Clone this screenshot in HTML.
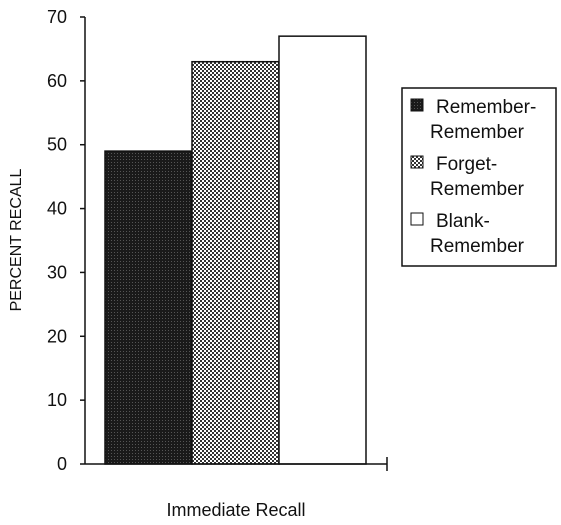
<!DOCTYPE html>
<html><head><meta charset="utf-8"><style>
body{margin:0;background:#fff;}
svg{display:block;font-family:"Liberation Sans",sans-serif;}
</style></head><body>
<svg width="561" height="525">
<defs>
<pattern id="dark" width="3" height="3" patternUnits="userSpaceOnUse"><rect width="3" height="3" fill="#1a1a1a"/><rect width="1" height="1" fill="#555"/></pattern>
<pattern id="check" width="4" height="4" patternUnits="userSpaceOnUse"><rect width="4" height="4" fill="#fff"/><rect width="2" height="2" fill="#333"/><rect x="2" y="2" width="2" height="2" fill="#333"/></pattern>
</defs>
<g id="g"></g>
</svg>
<script>
const categories = ["Remember-Remember","Forget-Remember","Blank-Remember"];
const values = [49, 63, 67];
const ticks = [0,10,20,30,40,50,60,70];
const fills = ["url(#dark)","url(#check)","#fff"];
const NS="http://www.w3.org/2000/svg";
const g=document.getElementById('g');
function y(v){return 464 - v*(464-17)/70;}
function x(i){return 105 + i*87;}
function mk(t,a,p){const e=document.createElementNS(NS,t);for(const k in a)e.setAttribute(k,a[k]);(p||g).appendChild(e);return e;}
values.forEach((v,i)=>{
 const r=mk('rect',{x:x(i),y:y(v),width:87,height:464-y(v),fill:fills[i],stroke:'#111','stroke-width':1.5});
 
 
});
const ax=mk('line',{x1:85,y1:y(70),x2:85,y2:464,stroke:'#111','stroke-width':1.5});


const xa=mk('line',{x1:85,y1:464,x2:387,y2:464,stroke:'#111','stroke-width':1.5});


mk('line',{x1:387,y1:457,x2:387,y2:471,stroke:'#111','stroke-width':1.5});
ticks.forEach(t=>{
 mk('line',{x1:80,y1:y(t),x2:85,y2:y(t),stroke:'#111','stroke-width':1.5});
 const tx=mk('text',{x:67,y:y(t)+6,'text-anchor':'end','font-size':18,fill:'#111'});
 tx.textContent=t;
 
 
});
const yt=mk('text',{x:0,y:0,transform:'translate(21,240) rotate(-90)','text-anchor':'middle','font-size':16,fill:'#111'});
yt.textContent='PERCENT RECALL';


const xt=mk('text',{x:236,y:516,'text-anchor':'middle','font-size':18,fill:'#111'});
xt.textContent='Immediate Recall';


const lg=mk('g',{});


mk('rect',{x:402,y:88,width:154,height:178,fill:'#fff',stroke:'#111','stroke-width':1.5},lg);
const lab=[["Remember-","Remember"],["Forget-","Remember"],["Blank-","Remember"]];
lab.forEach((l,i)=>{
 const by=113+i*57;
 const sw=mk('rect',{x:411,y:by-14,width:12,height:12,fill:fills[i],stroke:'#111','stroke-width':1},lg);
 
 
 const t1=mk('text',{x:436,y:by,'font-size':19,fill:'#111'},lg);t1.textContent=l[0];
 
 
 const t2=mk('text',{x:430,y:by+25,'font-size':19,fill:'#111'},lg);t2.textContent=l[1];
 
 
});
</script>
</body></html>
